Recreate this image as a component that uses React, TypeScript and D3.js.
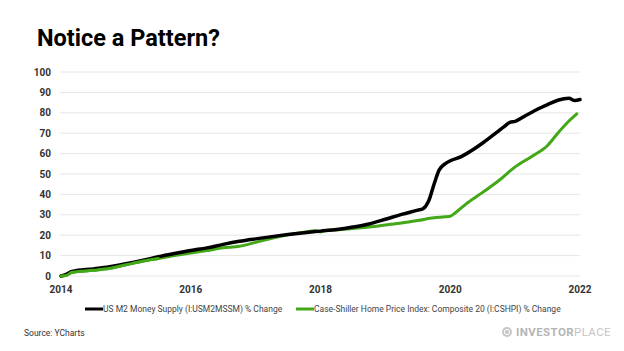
import { useEffect, useRef } from 'react'
import * as d3 from 'd3'

// fractional years, % change since Jan 2014
const m2Dates = [
  2014.0, 2014.08, 2014.17, 2014.5, 2014.75, 2015.0, 2015.25, 2015.5, 2015.75,
  2016.0, 2016.25, 2016.5, 2016.75, 2017.0, 2017.25, 2017.5, 2017.75, 2018.0,
  2018.25, 2018.5, 2018.75, 2019.0, 2019.25, 2019.5, 2019.58, 2019.67, 2019.75,
  2019.83, 2019.92, 2020.0, 2020.17, 2020.33, 2020.5, 2020.67, 2020.83, 2020.92,
  2021.0, 2021.17, 2021.33, 2021.5, 2021.67, 2021.83, 2021.92, 2022.0,
]
const m2Values = [
  0, 0.8, 2.2, 3.5, 4.6, 6, 7.6, 9.4, 11, 12.5, 13.8, 15.5, 17, 18.2, 19.3, 20.3,
  21.2, 22, 22.8, 24, 25.5, 27.8, 30.2, 32.3, 33, 37, 45, 52, 55, 56.5, 58.5,
  61.5, 65.2, 69.3, 73.2, 75.3, 75.8, 78.8, 81.5, 84, 86.3, 87.1, 86, 86.5,
]

const hpiDates = [
  2014.0, 2014.08, 2014.17, 2014.5, 2014.75, 2015.0, 2015.25, 2015.5, 2015.75,
  2016.0, 2016.25, 2016.5, 2016.75, 2017.0, 2017.25, 2017.5, 2017.75, 2017.92,
  2018.0, 2018.08, 2018.25, 2018.5, 2018.75, 2019.0, 2019.25, 2019.5, 2019.75,
  2019.92, 2020.0, 2020.08, 2020.25, 2020.5, 2020.75, 2021.0, 2021.25, 2021.5,
  2021.67, 2021.83, 2021.95,
]
const hpiValues = [
  0, 0.3, 1.8, 2.8, 3.8, 5.5, 7.2, 8.6, 10, 11.3, 12.5, 13.8, 14.6, 16.5, 18.5,
  20.2, 21.5, 22.2, 21.6, 22.3, 22.6, 23.3, 24, 25, 26, 27.2, 28.5, 29, 29.3, 31,
  35.5, 41, 46.8, 53.5, 58.5, 64, 70.5, 76, 79.5,
]

const yTicks = [0, 10, 20, 30, 40, 50, 60, 70, 80, 90, 100]
const xTicks = [2014, 2016, 2018, 2020, 2022]

const seriesNames = [
  'US M2 Money Supply (I:USM2MSSM) % Change',
  'Case-Shiller Home Price Index: Composite 20 (I:CSHPI) % Change',
]
const seriesColors = ['#000000', '#42a817']

const W = 624
const H = 351
const FONT = 'Roboto, sans-serif'

export default function App() {
  const svgRef = useRef<SVGSVGElement>(null)

  useEffect(() => {
    if (!svgRef.current) return
    const svg = d3.select(svgRef.current)
    svg.selectAll('*').remove()

    const x = d3.scaleLinear().domain([2014, 2022]).range([61, 580])
    const y = d3.scaleLinear().domain([0, 100]).range([276, 72])

    svg.append('rect').attr('width', W).attr('height', H).attr('fill', '#fff')

    // title
    svg
      .append('text')
      .attr('x', 37)
      .attr('y', 46)
      .attr('font-family', FONT)
      .attr('font-weight', 700)
      .attr('font-size', 23.5)
      .attr('fill', '#000')
      .text('Notice a Pattern?')

    // grid + y labels
    const yAxis = svg.append('g')
    yAxis
      .selectAll('line')
      .data(yTicks)
      .enter()
      .append('line')
      .attr('x1', 60)
      .attr('x2', 580)
      .attr('y1', d => y(d))
      .attr('y2', d => y(d))
      .attr('stroke', '#e6e6e6')
      .attr('stroke-width', 1)
    yAxis
      .selectAll('text')
      .data(yTicks)
      .enter()
      .append('text')
      .attr('x', 51)
      .attr('y', d => y(d))
      .attr('dy', '0.35em')
      .attr('text-anchor', 'end')
      .attr('font-family', FONT)
      .attr('font-weight', 700)
      .attr('font-size', 10)
      .attr('fill', '#333')
      .text(d => d)

    // x labels
    svg
      .append('g')
      .selectAll('text')
      .data(xTicks)
      .enter()
      .append('text')
      .attr('x', d => x(d))
      .attr('y', 293)
      .attr('text-anchor', 'middle')
      .attr('font-family', FONT)
      .attr('font-weight', 700)
      .attr('font-size', 10)
      .attr('fill', '#333')
      .text(d => d)

    // lines
    const line = d3
      .line<[number, number]>()
      .x(d => x(d[0]))
      .y(d => y(d[1]))
      .curve(d3.curveMonotoneX)

    const hpi = hpiDates.map((d, i) => [d, hpiValues[i]] as [number, number])
    const m2 = m2Dates.map((d, i) => [d, m2Values[i]] as [number, number])

    svg
      .append('path')
      .datum(hpi)
      .attr('d', line)
      .attr('fill', 'none')
      .attr('stroke', seriesColors[1])
      .attr('stroke-width', 3)
      .attr('stroke-linejoin', 'round')
      .attr('stroke-linecap', 'round')
    svg
      .append('path')
      .datum(m2)
      .attr('d', line)
      .attr('fill', 'none')
      .attr('stroke', seriesColors[0])
      .attr('stroke-width', 3.5)
      .attr('stroke-linejoin', 'round')
      .attr('stroke-linecap', 'round')
    // green sits on top at the very start
    svg
      .append('path')
      .datum(hpi.filter(d => d[0] <= 2015.5))
      .attr('d', line)
      .attr('fill', 'none')
      .attr('stroke', seriesColors[1])
      .attr('stroke-width', 3)
      .attr('stroke-linecap', 'round')

    // legend
    const legendX = [85, 296]
    const legend = svg
      .append('g')
      .selectAll('g')
      .data(seriesNames)
      .enter()
      .append('g')
      .attr('transform', (_, i) => `translate(${legendX[i]},309)`)
    legend
      .append('line')
      .attr('x1', 0)
      .attr('x2', 18)
      .attr('stroke', (_, i) => seriesColors[i])
      .attr('stroke-width', 3)
    legend
      .append('text')
      .attr('x', 18)
      .attr('dy', '0.35em')
      .attr('font-family', FONT)
      .attr('font-size', 8.5)
      .attr('fill', '#444')
      .text(d => d)

    // source
    svg
      .append('text')
      .attr('x', 24)
      .attr('y', 336)
      .attr('font-family', FONT)
      .attr('font-size', 8.5)
      .attr('fill', '#333')
      .text('Source: YCharts')

    // logo
    const logo = svg.append('g').attr('transform', 'translate(507,332)')
    logo.append('circle').attr('r', 5).attr('fill', '#c8c8c8')
    logo
      .append('circle')
      .attr('r', 2.6)
      .attr('fill', 'none')
      .attr('stroke', '#fff')
      .attr('stroke-width', 1)
    const logoText = logo
      .append('text')
      .attr('x', 9)
      .attr('y', 4.2)
      .attr('font-family', FONT)
      .attr('font-size', 11.5)
      .attr('letter-spacing', 0.4)
    logoText.append('tspan').attr('font-weight', 700).attr('fill', '#b5b5b5').text('INVESTOR')
    logoText.append('tspan').attr('font-weight', 400).attr('fill', '#c4c4c4').text('PLACE')
  }, [])

  return (
    <svg
      ref={svgRef}
      width={W}
      height={H}
      style={{ position: 'absolute', left: 0, top: 0, display: 'block' }}
    />
  )
}
